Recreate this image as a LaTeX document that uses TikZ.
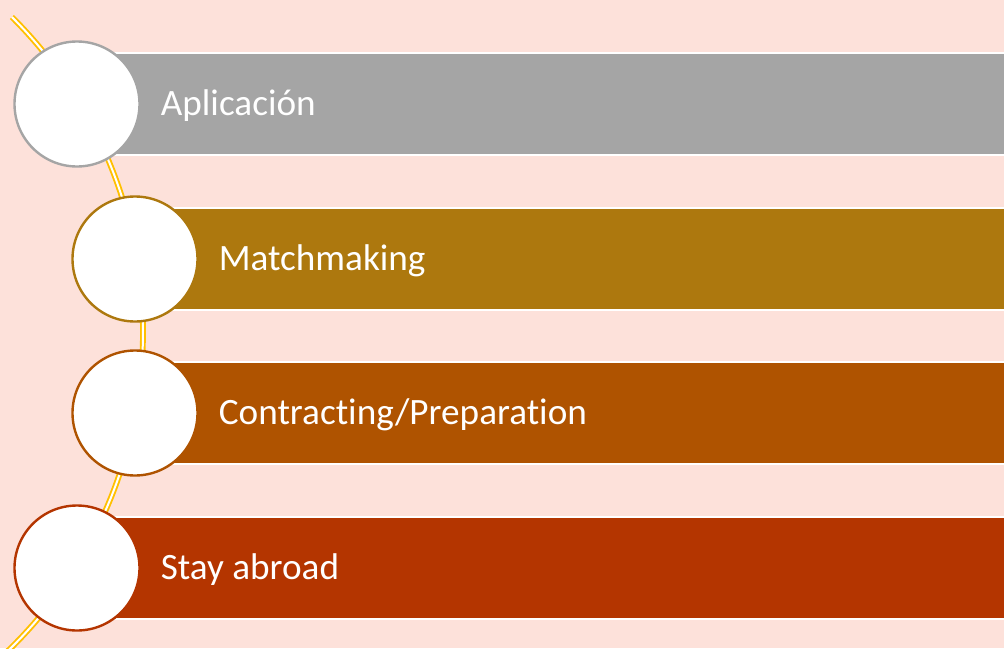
\documentclass[tikz,border=0pt]{standalone}
\usepackage{fontspec}
\setmainfont{Carlito}[Ligatures={NoCommon,NoRare}]
\usepackage{xcolor}
\usetikzlibrary{positioning}
\definecolor{paper}{HTML}{FDE1DA}
\definecolor{rail}{HTML}{FFC000}
\definecolor{stepgray}{HTML}{A5A5A5}
\definecolor{stepochre}{HTML}{AD780E}
\definecolor{steprust}{HTML}{AF5300}
\definecolor{stepred}{HTML}{B43500}
\tikzset{
  railline/.style={draw=rail, line width=1.9pt, double=white, double distance=2pt},
  bar/.style={rectangle, fill=#1, draw=white, line width=2.5pt, anchor=west,
    minimum width=950pt, minimum height=102pt, inner sep=0pt},
  stepdot/.style={circle, fill=white, draw=#1, line width=2.4pt,
    minimum size=125pt, inner sep=0pt},
  lbl/.style={text=white, font=\fontsize{37.2}{42}\selectfont, inner sep=0pt, anchor=west,
    yshift=-2pt}
}

\begin{document}
\begin{tikzpicture}[x=1pt, y=-1pt]
  \useasboundingbox[fill=paper] (0,0) rectangle (1004,648);

  \coordinate (p1) at (77,104);
  \coordinate (p2) at (135,259);
  \coordinate (p3) at (135,413);
  \coordinate (p4) at (77,568);

  % bands behind the circles
  \node[bar=stepgray]  (b1) at (p1) {};
  \node[bar=stepochre] (b2) at (p2) {};
  \node[bar=steprust]  (b3) at (p3) {};
  \node[bar=stepred]   (b4) at (p4) {};

  % the bent rail through the steps
  \draw[railline] (-301,332) ++(-45.2:444) arc[start angle=-45.2, end angle=48, radius=444];

  \node[stepdot=stepgray]  (c1) at (p1) {};
  \node[stepdot=stepochre] (c2) at (p2) {};
  \node[stepdot=steprust]  (c3) at (p3) {};
  \node[stepdot=stepred]   (c4) at (p4) {};

  \node[lbl, right=20pt of c1] (t1) {Aplicación};
  \node[lbl, right=20pt of c2] (t2) {Matchmaking};
  \node[lbl, right=20pt of c3] (t3) {Contracting/Preparation};
  \node[lbl, right=20pt of c4] (t4) {Stay abroad};
\end{tikzpicture}
\end{document}
